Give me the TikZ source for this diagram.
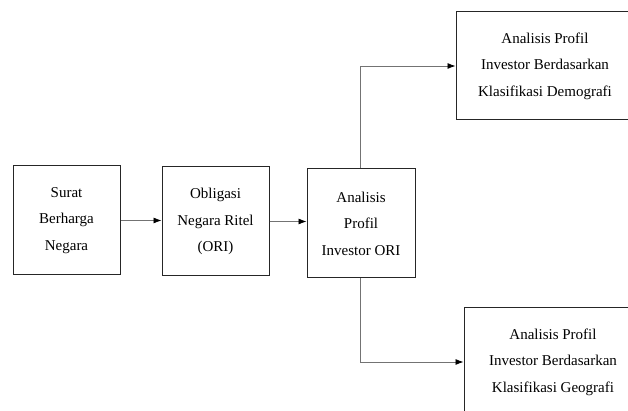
\documentclass[tikz,border=0pt]{standalone}
\usepackage{fontspec}
\setmainfont{Liberation Serif}
\usepackage{tikz}
\usetikzlibrary{arrows.meta}

\begin{document}
\begin{tikzpicture}[x=1pt,y=1pt,
     kotak/.style={draw=black!85, line width=1pt, align=center, inner sep=0pt,
          font=\fontsize{15}{26.5}\selectfont},
     panah/.style={-{Latex[color=black, length=8pt, width=6pt]}, draw=black!55, line width=0.8pt}]
     \clip (0,0) rectangle (628,411);
     \node[kotak, minimum width=107, minimum height=109] (sbn) at (66.5,190.5) {Surat\\Berharga\\Negara};
     \node[kotak, minimum width=107, minimum height=109] (ori) at (215.5,189.5) {Obligasi\\Negara Ritel\\(ORI)};
     \node[kotak, minimum width=108, minimum height=109] (profil) at (361,187.5) {Analisis\\Profil\\Investor ORI};
     \node[kotak, minimum width=178, minimum height=108] (demo) at (545,345) {Analisis Profil\\Investor Berdasarkan\\Klasifikasi Demografi};
     \node[kotak, minimum width=178, minimum height=108] (geo) at (553,49) {Analisis Profil\\Investor Berdasarkan\\Klasifikasi Geografi};
     \draw[panah] (sbn.east) -- (sbn.east -| ori.west);
     \draw[panah] (ori.east) -- (ori.east -| profil.west);
     \draw[panah] ([xshift=-1pt]profil.north) |- (demo.west);
     \draw[panah] ([xshift=-1pt]profil.south) |- (geo.west);
\end{tikzpicture}
\end{document}
